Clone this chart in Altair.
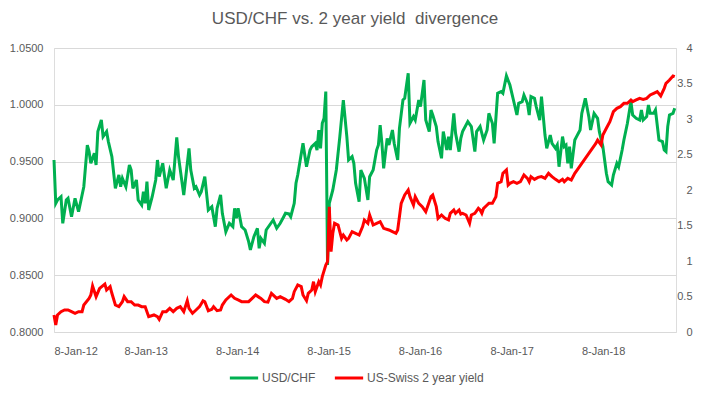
import altair as alt
import pandas as pd

TITLE = "USD/CHF vs. 2 year yield\u00a0 divergence"
SERIES = ["USD/CHF", "US-Swiss 2 year yield"]
COLORS = ["#00B050", "#FF0000"]
X_TICK_YEARS = [2012, 2013, 2014, 2015, 2016, 2017, 2018]
LEFT_TICKS = [0.80, 0.85, 0.90, 0.95, 1.00, 1.05]
RIGHT_TICKS = [0, 0.5, 1, 1.5, 2, 2.5, 3, 3.5, 4]

# weeks counted from 8-Jan-2012
green_weeks = [0, 1, 2, 4, 5, 7, 8, 10, 12, 14, 17, 19, 20, 21, 23, 24, 25, 27, 28, 30,
               31, 33, 35, 37, 38, 39, 41, 43, 44, 45, 47, 48, 50, 51, 52, 53, 54, 56, 58, 59,
               60, 62, 64, 66, 68, 70, 71, 74, 77, 78, 80, 81, 83, 84, 86, 88, 90, 92, 93, 95,
               96, 98, 100, 102, 103, 104, 105, 107, 109, 111, 112, 114, 116, 117, 118, 120, 121,
               123, 125, 127, 129, 131, 132, 134, 135, 137, 138, 139, 142, 144, 146, 147, 149, 150,
               151, 152, 153, 154, 155, 156, 157, 159, 161, 163, 165, 167, 168, 170, 171, 172, 174,
               175, 177, 179, 180, 182, 184, 185, 186, 187, 188, 190, 191, 193, 194, 196, 197, 199,
               200, 202, 203, 205, 206, 208, 209, 211, 212, 214, 215, 216, 218, 219, 221, 222, 224,
               225, 226, 228, 229, 231, 232, 233, 236, 238, 240, 241,
               243, 245, 247, 248, 250, 251, 253, 255, 256, 258, 260, 262, 264, 265, 267, 268, 270,
               271, 272, 274, 275, 277, 278, 280, 281, 283, 284, 286, 287, 288, 290, 291, 292, 293,
               294, 295, 297, 298, 300, 301, 303, 305, 306, 308, 310, 311, 313, 315, 316, 318, 319,
               321, 322, 324, 325, 327, 329, 330, 332, 334, 335, 336, 338, 339, 340, 342, 343, 345,
               347, 348, 349, 350, 351, 353, 354]
green_vals = [0.9514, 0.9133, 0.9162, 0.9191, 0.8957, 0.9162, 0.9177, 0.9015, 0.9177, 0.9059, 0.9279, 0.9646, 0.9588, 0.9485, 0.9573, 0.9470, 0.9764, 0.9866, 0.9720, 0.9764,
              0.9676, 0.9544, 0.9265, 0.9382, 0.9279, 0.9353, 0.9279, 0.9470, 0.9426, 0.9265, 0.9338, 0.9162, 0.9118, 0.9235, 0.9133, 0.9323, 0.9074, 0.9191, 0.9338, 0.9514,
              0.9367, 0.9485, 0.9265, 0.9426, 0.9338, 0.9714, 0.9544, 0.9206, 0.9617, 0.9426, 0.9265, 0.9279, 0.9206, 0.9235, 0.9367, 0.9074, 0.9103, 0.8927, 0.9089, 0.9206,
              0.9045, 0.8883, 0.8957, 0.8927, 0.9089, 0.9001, 0.9089, 0.8927, 0.8898, 0.8795, 0.8722, 0.8839, 0.8913, 0.8737, 0.8825, 0.8781, 0.8898,
              0.8942, 0.8986, 0.8913, 0.8957, 0.9015, 0.9045, 0.9039, 0.9015, 0.9133, 0.9309, 0.9382, 0.9661, 0.9455, 0.9602, 0.9632, 0.9661, 0.9602,
              0.9778, 0.9617, 0.9837, 0.9881, 1.0116, 0.8590, 0.9133, 0.9250, 0.9426, 0.9720, 1.0042, 0.9720, 0.9514, 0.9544, 0.9485, 0.9309, 0.9147,
              0.9426, 0.9353, 0.9162, 0.9367, 0.9426, 0.9602, 0.9646, 0.9822, 0.9661, 0.9441, 0.9705, 0.9646, 0.9778, 0.9661, 0.9514, 0.9793, 1.0042,
              1.0057, 1.0277, 0.9837, 0.9896, 0.9866, 1.0042, 0.9984, 1.0218, 0.9866, 0.9764, 0.9954, 0.9910, 0.9808, 0.9676, 0.9529, 0.9764, 0.9602,
              0.9720, 0.9602, 0.9925, 0.9749, 0.9588, 0.9705, 0.9764, 0.9852, 0.9808, 0.9588, 0.9764,
              0.9808, 0.9690, 0.9778, 0.9925, 0.9837, 0.9661, 1.0101, 1.0116, 1.0101, 1.0254, 1.0174, 1.0042, 0.9910, 1.0013, 1.0028, 1.0086, 1.0013,
              0.9910, 1.0072, 1.0057, 0.9984, 0.9866, 1.0072, 0.9734, 0.9617, 0.9734, 0.9661, 0.9617, 0.9646, 0.9455, 0.9720, 0.9632, 0.9646, 0.9485,
              0.9632, 0.9441, 0.9690, 0.9720, 0.9778, 0.9925, 1.0057, 0.9896, 0.9778, 0.9925, 0.9881, 0.9764, 0.9632, 0.9397, 0.9323, 0.9294, 0.9382,
              0.9485, 0.9455, 0.9602, 0.9690, 0.9837, 1.0028, 0.9910, 0.9881, 0.9866, 0.9954, 0.9866, 0.9896, 0.9998, 0.9925, 0.9925, 0.9954, 0.9690,
              0.9676, 0.9602, 0.9588, 0.9808, 0.9910, 0.9925, 0.9969]

red_weeks = [0, 1, 2, 4, 6, 8, 10, 12, 14, 16, 17, 20, 21, 22, 24, 26, 29, 30, 32, 33,
             35, 37, 39, 40, 42, 44, 46, 48, 50, 52, 54, 57, 59, 60, 62, 64, 66, 68, 70, 72,
             74, 76, 77, 79, 81, 83, 85, 86, 88, 90, 91, 93, 95, 96, 98, 101, 103, 105, 107, 109,
             111, 113, 115, 117, 118, 120, 122, 124, 127, 129, 132, 134, 136, 137, 139, 141, 142, 144, 145, 147,
             148, 149, 151, 152, 153, 155, 156, 157, 158, 159, 160, 162, 164, 165, 167, 168, 170, 172, 174, 176,
             177, 179, 180, 182, 184, 186, 188, 191, 193, 195, 196, 198, 200, 202, 203, 205, 206, 208, 210, 212,
             213, 215, 216, 218, 219, 221, 223, 225, 226, 228, 229, 231, 232, 233, 235, 237, 238, 240, 242,
             243, 244, 245, 247, 248, 250, 252, 253, 255, 256, 258, 259, 260, 262, 264, 266, 268, 270, 271, 272,
             274, 276, 278, 280, 282, 284, 286, 288, 290, 291, 293, 295, 297, 299, 301, 303, 305, 307, 309, 310,
             312, 313, 315, 317, 318, 319, 321, 323, 325, 327, 329, 330, 332, 334, 336, 338, 340, 342, 344, 346,
             348, 349, 351, 353, 354]
red_vals = [0.24, 0.10, 0.24, 0.286, 0.31, 0.31, 0.286, 0.263, 0.286, 0.286, 0.38, 0.474, 0.521, 0.648, 0.498, 0.615, 0.676, 0.592, 0.639, 0.545,
            0.38, 0.357, 0.427, 0.498, 0.427, 0.427, 0.38, 0.38, 0.357, 0.357, 0.216, 0.24, 0.216, 0.178, 0.286, 0.286, 0.333, 0.286, 0.333, 0.357,
            0.286, 0.441, 0.333, 0.263, 0.31, 0.357, 0.441, 0.427, 0.30, 0.319, 0.357, 0.30, 0.31, 0.38, 0.451, 0.521, 0.474, 0.451, 0.427, 0.427,
            0.427, 0.474, 0.521, 0.488, 0.474, 0.427, 0.42, 0.545, 0.474, 0.498, 0.460, 0.427, 0.474, 0.568, 0.662, 0.639, 0.521, 0.441, 0.545, 0.592,
            0.709, 0.568, 0.709, 0.662, 0.779, 0.944, 0.991, 1.765, 1.131, 1.390, 1.531, 1.507, 1.319, 1.366, 1.296, 1.319, 1.413, 1.390, 1.366, 1.484,
            1.578, 1.531, 1.648, 1.507, 1.531, 1.554, 1.460, 1.437, 1.413, 1.390, 1.437, 1.812, 1.930, 2.000, 1.906, 1.789, 1.906, 1.812, 1.765, 1.695,
            1.765, 1.906, 1.930, 1.765, 1.601, 1.648, 1.601, 1.578, 1.671, 1.718, 1.671, 1.718, 1.662, 1.671, 1.648, 1.531, 1.648, 1.671, 1.742,
            1.718, 1.671, 1.742, 1.789, 1.812, 1.812, 1.906, 2.094, 2.117, 2.235, 2.282, 2.070, 2.094, 2.117, 2.094, 2.117, 2.211, 2.164, 2.117, 2.188,
            2.150, 2.178, 2.188, 2.164, 2.235, 2.188, 2.150, 2.117, 2.150, 2.117, 2.164, 2.141, 2.235, 2.305, 2.376, 2.446, 2.516, 2.587, 2.657, 2.704,
            2.634, 2.775, 2.869, 2.963, 3.033, 3.103, 3.150, 3.174, 3.221, 3.221, 3.268, 3.244, 3.268, 3.291, 3.277, 3.291, 3.338, 3.362, 3.385, 3.324,
            3.432, 3.502, 3.549, 3.606, 3.596]

assert len(green_weeks) == len(green_vals), (len(green_weeks), len(green_vals))
assert len(red_weeks) == len(red_vals), (len(red_weeks), len(red_vals))

start = pd.Timestamp("2012-01-08")


def to_dates(weeks):
    return [(start + pd.Timedelta(days=7 * w)).strftime("%Y-%m-%dT00:00:00") for w in weeks]


df = pd.concat([
    pd.DataFrame({"date": to_dates(green_weeks), "value": green_vals, "series": SERIES[0]}),
    pd.DataFrame({"date": to_dates(red_weeks), "value": red_vals, "series": SERIES[1]}),
], ignore_index=True)

FONT = "Liberation Sans"
TXT = "#595959"

x_enc = alt.X(
    "date:T",
    scale=alt.Scale(domain=[alt.DateTime(year=2012, month=1, date=8),
                            alt.DateTime(year=2018, month=10, date=26)]),
    axis=alt.Axis(values=[alt.DateTime(year=y, month=1, date=8) for y in X_TICK_YEARS],
                  format="%-d-%b-%y", title=None, grid=False, domain=False, ticks=False,
                  labelPadding=13, labelFontSize=11, labelColor=TXT, labelFont=FONT),
)

color_enc = alt.Color(
    "series:N",
    scale=alt.Scale(domain=SERIES, range=COLORS),
    legend=alt.Legend(title=None, orient="none", direction="horizontal", legendX=174, legendY=314,
                      symbolType="stroke", symbolStrokeWidth=3, symbolSize=800,
                      labelFontSize=12, labelColor=TXT, labelFont=FONT, columnPadding=12,
                      labelOffset=2),
)

green = alt.Chart(df).transform_filter(alt.datum.series == SERIES[0]).mark_line(
    strokeWidth=3
).encode(
    x=x_enc,
    y=alt.Y("value:Q", scale=alt.Scale(domain=[0.8, 1.05], nice=False, zero=False),
            axis=alt.Axis(orient="left", values=LEFT_TICKS, format=".4f", title=None,
                          domain=False, ticks=False, grid=True, gridColor="#D9D9D9",
                          labelPadding=11, labelFontSize=11, labelColor=TXT, labelFont=FONT)),
    color=color_enc,
)

red = alt.Chart(df).transform_filter(alt.datum.series == SERIES[1]).mark_line(
    strokeWidth=3
).encode(
    x=x_enc,
    y=alt.Y("value:Q", scale=alt.Scale(domain=[0, 4], nice=False),
            axis=alt.Axis(orient="right", values=RIGHT_TICKS, format=".1~f", title=None,
                          domain=False, ticks=False, grid=False, labelAlign="right",
                          labelPadding=16, labelFontSize=11, labelColor=TXT, labelFont=FONT)),
    color=color_enc,
)

chart = alt.layer(green, red).resolve_scale(y="independent").properties(
    width=622,
    height=284,
    autosize=alt.AutoSizeParams(type="none"),
    padding={"left": 46, "top": 40, "right": 24, "bottom": 54},
    title=alt.TitleParams(TITLE, fontSize=17, font=FONT, color=TXT, fontWeight="normal",
                          anchor="middle", dx=-10, offset=14),
).configure_view(stroke=None).configure(background="white")

chart.save("out.html", embed_options={"renderer": "svg", "actions": False})
